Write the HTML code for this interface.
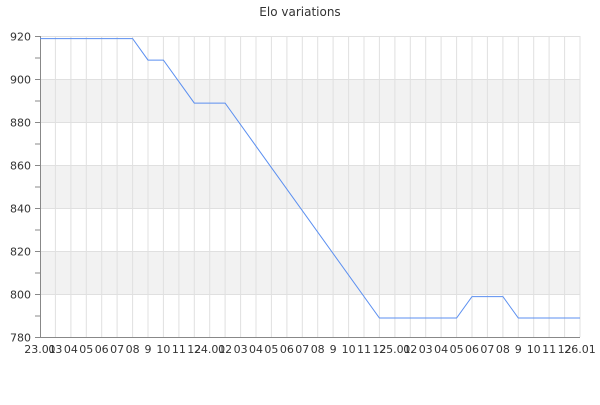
<!DOCTYPE html>
<html><head><style>body{margin:0;background:#fff}</style></head><body>
<svg width="600" height="400" xmlns="http://www.w3.org/2000/svg" font-family="DejaVu Sans, Liberation Sans, sans-serif">
<rect width="600" height="400" fill="#fff"/>
<text x="300" y="16" text-anchor="middle" font-size="12" fill="#333">Elo variations</text>
<g fill="#f2f2f2">
<rect x="40" y="79.5" width="540" height="43"/>
<rect x="40" y="165.5" width="540" height="43"/>
<rect x="40" y="251.5" width="540" height="43"/>
</g>
<g stroke="#e0e0e0">
<line x1="40" y1="36.5" x2="580" y2="36.5"/><line x1="40" y1="79.5" x2="580" y2="79.5"/><line x1="40" y1="122.5" x2="580" y2="122.5"/><line x1="40" y1="165.5" x2="580" y2="165.5"/><line x1="40" y1="208.5" x2="580" y2="208.5"/><line x1="40" y1="251.5" x2="580" y2="251.5"/><line x1="40" y1="294.5" x2="580" y2="294.5"/>
<path d="M55.4 36V337M70.9 36V337M86.3 36V337M101.7 36V337M117.1 36V337M132.6 36V337M148 36V337M163.4 36V337M178.9 36V337M194.3 36V337M209.7 36V337M225.1 36V337M240.6 36V337M256 36V337M271.4 36V337M286.9 36V337M302.3 36V337M317.7 36V337M333.1 36V337M348.6 36V337M364 36V337M379.4 36V337M394.9 36V337M410.3 36V337M425.7 36V337M441.1 36V337M456.6 36V337M472 36V337M487.4 36V337M502.9 36V337M518.3 36V337M533.7 36V337M549.1 36V337M564.6 36V337M580 36V337"/>
</g>
<g stroke="#888" fill="none">
<path d="M40.5 36V337.5H580"/>
<path d="M35 36.5H40M35 58H40M35 79.5H40M35 101H40M35 122.5H40M35 144H40M35 165.5H40M35 187H40M35 208.5H40M35 230H40M35 251.5H40M35 273H40M35 294.5H40M35 316H40M35 337.5H40"/>
</g>
<g font-size="11" fill="#333" text-anchor="end">
<text x="31" y="40.5">920</text><text x="31" y="83.5">900</text><text x="31" y="126.5">880</text><text x="31" y="169.5">860</text><text x="31" y="212.5">840</text><text x="31" y="255.5">820</text><text x="31" y="298.5">800</text><text x="31" y="341.5">780</text>
</g>
<polyline fill="none" stroke="#5b8ff0" stroke-width="1" points="40,38.6 132.6,38.6 148,60.1 163.4,60.1 194.3,103.1 225.1,103.1 379.4,318 456.6,318 472,296.6 502.9,296.6 518.3,318 580,318"/>
<g font-size="11" fill="#333" text-anchor="middle">
<text x="40" y="353">23.01</text><text x="55.4" y="353">03</text><text x="70.9" y="353">04</text><text x="86.3" y="353">05</text><text x="101.7" y="353">06</text><text x="117.1" y="353">07</text><text x="132.6" y="353">08</text><text x="148" y="353">9</text><text x="163.4" y="353">10</text><text x="178.9" y="353">11</text><text x="194.3" y="353">12</text>
<text x="209.7" y="353">24.01</text><text x="225.1" y="353">02</text><text x="240.6" y="353">03</text><text x="256" y="353">04</text><text x="271.4" y="353">05</text><text x="286.9" y="353">06</text><text x="302.3" y="353">07</text><text x="317.7" y="353">08</text><text x="333.1" y="353">9</text><text x="348.6" y="353">10</text><text x="364" y="353">11</text><text x="379.4" y="353">12</text>
<text x="394.9" y="353">25.01</text><text x="410.3" y="353">02</text><text x="425.7" y="353">03</text><text x="441.1" y="353">04</text><text x="456.6" y="353">05</text><text x="472" y="353">06</text><text x="487.4" y="353">07</text><text x="502.9" y="353">08</text><text x="518.3" y="353">9</text><text x="533.7" y="353">10</text><text x="549.1" y="353">11</text><text x="564.6" y="353">12</text><text x="580" y="353">26.01</text>
</g>
</svg>
</body></html>
